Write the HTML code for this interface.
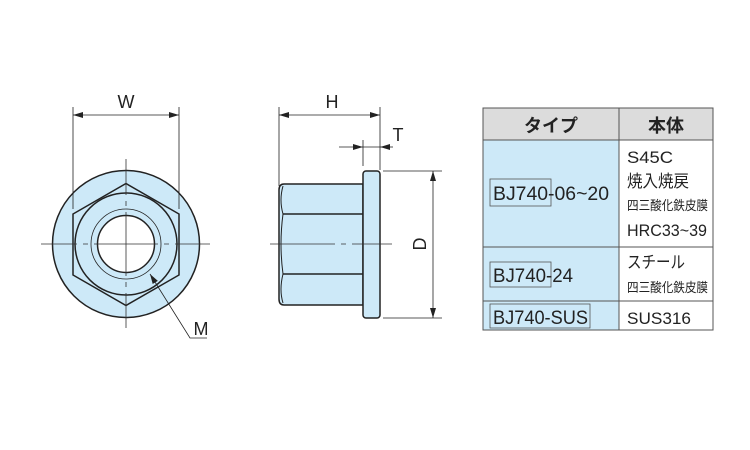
<!DOCTYPE html>
<html><head><meta charset="utf-8"><style>
body{margin:0;background:#fff;width:750px;height:450px;overflow:hidden;position:relative;font-family:"Liberation Sans","Noto Sans CJK JP",sans-serif;}
svg{position:absolute;left:0;top:0}
</style></head><body>
<svg width="750" height="450" viewBox="0 0 750 450" xmlns="http://www.w3.org/2000/svg">
<defs>
<marker id="a" viewBox="0 0 10 6" refX="10" refY="3" markerWidth="10" markerHeight="6" orient="auto-start-reverse" markerUnits="userSpaceOnUse"><path d="M0,0L10,3L0,6z" fill="#222"/></marker>
</defs>
<g stroke="#222" fill="none">
<circle cx="126" cy="244" r="73.5" fill="#cde9f8" stroke-width="1.5"/>
<polygon points="126,183.5 179,214 179,275 126,305.5 73,275 73,214" stroke-width="1.5"/>
<circle cx="126" cy="244" r="51" stroke-width="1.5"/>
<circle cx="126" cy="244" r="35" stroke-width="0.8"/>
<circle cx="126" cy="244" r="28.5" fill="#fff" stroke-width="1.5"/>
<g stroke-width="0.8" stroke="#333">
<path d="M41,244H77M83,244H88M94,244H158M164,244H169M175,244H210"/>
<path d="M126,159V195M126,201V206M126,212V276M126,282V287M126,293V328"/>
</g>
<path d="M73,107V209M179,107V209" stroke-width="0.8"/>
<path d="M73,115H179" stroke-width="0.8" marker-start="url(#a)" marker-end="url(#a)"/>
<path d="M207,338H190L150,274" stroke-width="0.8" marker-end="url(#a)"/>
<path d="M284,184H363V305H284Q279,305 279,299V190Q279,184 284,184Z" fill="#cde9f8" stroke-width="1.5"/>
<path d="M283,214H363M283,274H363" stroke-width="1.5"/>
<path d="M283,186Q279,200 283,214Q279,244 283,274Q279,290 283,303" stroke-width="1"/>
<rect x="363" y="171" width="17" height="147" rx="3" fill="#cde9f8" stroke-width="1.5"/>
<path d="M270,244H335M341,244H346M352,244H392" stroke-width="0.8" stroke="#333"/>
<path d="M279,107V186M380,107V170M363,140V166" stroke-width="0.8"/>
<path d="M279,115H380" stroke-width="0.8" marker-start="url(#a)" marker-end="url(#a)"/>
<path d="M339,147H363" stroke-width="0.8" marker-end="url(#a)"/>
<path d="M393,147H380" stroke-width="0.8" marker-end="url(#a)"/>
<path d="M363,147H380" stroke-width="0.8"/>
<path d="M383,171H442M383,318H442" stroke-width="0.8"/>
<path d="M433,171V318" stroke-width="0.8" marker-start="url(#a)" marker-end="url(#a)"/>
</g>
<g font-family="Liberation Sans, sans-serif" font-size="18" fill="#222" text-anchor="middle">
<text x="126" y="108">W</text>
<text x="332" y="108">H</text>
<text x="398" y="141">T</text>
<text x="201" y="335">M</text>
<text transform="translate(426,244) rotate(-90)">D</text>
</g>
<g stroke="#555" stroke-width="1">
<rect x="483" y="108" width="136" height="32" fill="#dcdcdc"/>
<rect x="619" y="108" width="94" height="32" fill="#dcdcdc"/>
<rect x="483" y="140" width="136" height="190" fill="#cde9f8"/>
<rect x="619" y="140" width="94" height="190" fill="#fff"/>
<path d="M483,247H713M483,301H713"/>
<rect x="490" y="179" width="61" height="27" fill="none" stroke-width="0.8"/>
<rect x="490" y="262" width="61" height="25" fill="none" stroke-width="0.8"/>
<rect x="490" y="304" width="100" height="24" fill="none" stroke-width="0.8"/>
</g>
<g font-family="Liberation Sans, Noto Sans CJK JP, sans-serif" fill="#222">
<text x="551" y="132" font-size="18" font-weight="bold" text-anchor="middle">タイプ</text>
<text x="666" y="132" font-size="18" font-weight="bold" text-anchor="middle">本体</text>
<text x="493" y="200" font-size="19" textLength="116" lengthAdjust="spacingAndGlyphs">BJ740-06~20</text>
<text x="493" y="282" font-size="19" textLength="80" lengthAdjust="spacingAndGlyphs">BJ740-24</text>
<text x="493" y="324" font-size="19" textLength="95" lengthAdjust="spacingAndGlyphs">BJ740-SUS</text>
<text x="627" y="163" font-size="17" textLength="46" lengthAdjust="spacingAndGlyphs">S45C</text>
<text x="627" y="187" font-size="17" textLength="62" lengthAdjust="spacingAndGlyphs">焼入焼戻</text>
<text x="627" y="210" font-size="13" textLength="81" lengthAdjust="spacingAndGlyphs">四三酸化鉄皮膜</text>
<text x="627" y="236" font-size="17" textLength="80" lengthAdjust="spacingAndGlyphs">HRC33~39</text>
<text x="627" y="268" font-size="17" textLength="58" lengthAdjust="spacingAndGlyphs">スチール</text>
<text x="627" y="292" font-size="13" textLength="81" lengthAdjust="spacingAndGlyphs">四三酸化鉄皮膜</text>
<text x="627" y="324" font-size="17" textLength="64" lengthAdjust="spacingAndGlyphs">SUS316</text>
</g>
</svg>
</body></html>
